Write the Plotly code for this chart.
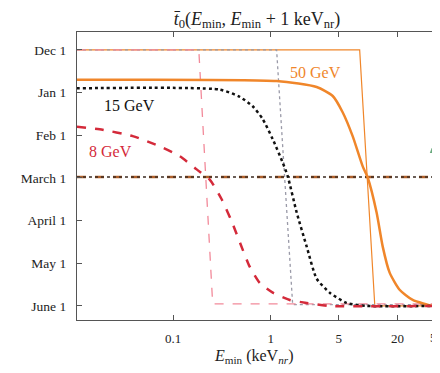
import plotly.graph_objects as go

# y values: months after Dec 1 (0 = Dec 1, 6 = June 1)
month_ticks = [0, 1, 2, 3, 4, 5, 6]
month_labels = ["Dec 1", "Jan 1", "Feb 1", "March 1", "April 1", "May 1", "June 1"]
x_ticks = [0.1, 1, 5, 20, 50]
x_labels = ["0.1", "1", "5", "20", "50"]

# thick curves
e_8 = [0.0103, 0.0176, 0.0384, 0.0727, 0.1166, 0.174, 0.237, 0.314, 0.398, 0.516, 0.609, 0.771, 1.05, 1.57, 2.34, 4.03, 50]
t_8 = [1.80, 1.86, 2.02, 2.26, 2.49, 2.80, 3.04, 3.50, 4.02, 4.68, 5.08, 5.46, 5.69, 5.86, 5.93, 6.0, 6.0]

e_15 = [0.0102, 0.3, 0.481, 0.654, 0.828, 1.048, 1.328, 1.494, 1.848, 2.34, 2.96, 4.03, 6.02, 9.66, 50]
t_15 = [0.9, 0.93, 1.1, 1.32, 1.62, 2.09, 2.64, 2.96, 3.81, 4.61, 5.36, 5.69, 5.93, 6.0, 6.0]

e_50 = [0.0102, 1.15, 2.96, 4.33, 5.47, 6.93, 8.79, 9.88, 12.2, 14.1, 16.6, 21.0, 28.6, 45.9, 50]
t_50 = [0.70, 0.73, 0.87, 1.08, 1.46, 2.02, 2.73, 2.99, 3.81, 4.61, 5.22, 5.62, 5.86, 6.0, 6.0]

# thin step curves
e_8_thin = [0.0103, 0.183, 0.254, 50]
t_8_thin = [0, 0, 5.95, 5.95]
e_15_thin = [0.0103, 1.15, 1.68, 50]
t_15_thin = [0, 0, 5.97, 5.97]
e_50_thin = [0.0103, 8.18, 11.7, 50]
t_50_thin = [0, 0, 6.0, 6.0]

march_e = [0.0103, 50]
march_t = [2.98, 2.98]

ORANGE = "#F0862A"
RED = "#D42A3A"
PINK = "#F28A9A"
GRAY = "#9A9AA8"

fig = go.Figure()

fig.add_trace(go.Scatter(x=e_50_thin, y=t_50_thin, mode="lines",
                         line=dict(color=ORANGE, width=1.2)))
fig.add_trace(go.Scatter(x=e_15_thin, y=t_15_thin, mode="lines",
                         line=dict(color=GRAY, width=1.3, dash="dot")))
fig.add_trace(go.Scatter(x=e_8_thin, y=t_8_thin, mode="lines",
                         line=dict(color=PINK, width=1.3, dash="dash")))

fig.add_trace(go.Scatter(x=march_e, y=march_t, mode="lines",
                         line=dict(color="#B0602A", width=2.5, dash="dash")))
fig.add_trace(go.Scatter(x=march_e, y=march_t, mode="lines",
                         line=dict(color="#3a2a20", width=1.5, dash="dot")))

fig.add_trace(go.Scatter(x=e_50, y=t_50, mode="lines",
                         line=dict(color=ORANGE, width=2.5, shape="spline", smoothing=0.6)))
fig.add_trace(go.Scatter(x=e_15, y=t_15, mode="lines",
                         line=dict(color="#111111", width=2.5, dash="dot", shape="spline", smoothing=0.6)))
fig.add_trace(go.Scatter(x=e_8, y=t_8, mode="lines",
                         line=dict(color=RED, width=2.5, dash="dash", shape="spline", smoothing=0.6)))

serif = "Liberation Serif"

fig.add_annotation(x=0.46, y=0.52, text="50 GeV", showarrow=False,
                   font=dict(family=serif, size=16, color=ORANGE))
fig.add_annotation(x=-1.446, y=1.3, text="15 GeV", showarrow=False,
                   font=dict(family=serif, size=16, color="#111111"))
fig.add_annotation(x=-1.641, y=2.38, text="8 GeV", showarrow=False,
                   font=dict(family=serif, size=16, color=RED))

# "50" tick label, partly cut by the page edge
fig.add_annotation(x=1.699, xref="x", y=0, yref="paper", yanchor="top", yshift=-8,
                   text=x_labels[-1], showarrow=False,
                   font=dict(family=serif, size=13, color="#222"))

fig.add_annotation(xref="paper", yref="paper", x=0.49, y=-0.128, yanchor="middle",
                   text="<i>E</i><sub>min</sub> (keV<sub><i>nr</i></sub>)", showarrow=False,
                   font=dict(family=serif, size=16, color="#222222"))

# green artifact at the right edge
fig.add_shape(type="path", xref="paper", yref="paper",
              path="M 1.0083 0.67 L 1.0083 0.58 L 0.98 0.58 Z",
              fillcolor="#6AAA7E", line=dict(width=0), layer="above")

fig.update_layout(
    width=432, height=365,
    margin=dict(l=69, r=3, t=24, b=53, autoexpand=False),
    paper_bgcolor="white", plot_bgcolor="white",
    showlegend=False,
    title=dict(text="<i>t\u0304</i><sub>0</sub>(<i>E</i><sub>min</sub>, <i>E</i><sub>min</sub> + 1 keV<sub>nr</sub>)",
               x=0.5, xanchor="center", xref="paper", y=0.972, yanchor="middle",
               font=dict(family=serif, size=18, color="#222222")),
    font=dict(family=serif, size=13, color="#222222"),
)

fig.update_xaxes(type="log", range=[-1.987, 1.706], automargin=False,
                 tickvals=x_ticks, ticktext=x_labels,
                 ticks="inside", ticklen=5, tickcolor="#555",
                 showline=True, linecolor="#555", linewidth=1.2, mirror="ticks",
                 showgrid=False, zeroline=False, ticklabelstandoff=6,
                 tickfont=dict(family=serif, size=13, color="#222"))
fig.update_yaxes(range=[6.33, -0.42], automargin=False,
                 tickvals=month_ticks, ticktext=month_labels,
                 ticks="inside", ticklen=5, tickcolor="#555",
                 showline=True, linecolor="#555", linewidth=1.2, mirror="ticks",
                 showgrid=False, zeroline=False, ticklabelstandoff=7,
                 tickfont=dict(family=serif, size=13.5, color="#222"))

fig.write_html("out.html")
